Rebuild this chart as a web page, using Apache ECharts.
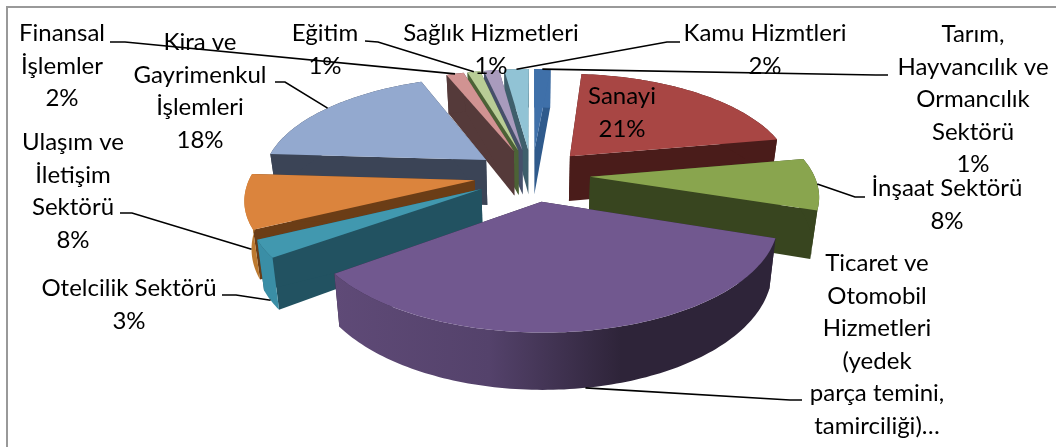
<!DOCTYPE html>
<html>
<head>
<meta charset="utf-8">
<style>
  html, body { margin: 0; padding: 0; background: #fff; }
  #chart { width: 1056px; height: 447px; }
</style>
<script src="https://cdn.jsdelivr.net/npm/echarts@6/dist/echarts.min.js"></script>
</head>
<body>
<div id="chart"></div>
<script>
// clockwise from 12 o'clock
var categories = [
  'Tarım,\nHayvancılık ve\nOrmancılık\nSektörü',
  'Sanayi',
  'İnşaat Sektörü',
  'Ticaret ve\nOtomobil\nHizmetleri\n(yedek\nparça temini,\ntamirciliği)…',
  'Otelcilik Sektörü',
  'Ulaşım ve\nİletişim\nSektörü',
  'Kira ve\nGayrimenkul\nİşlemleri',
  'Finansal\nİşlemler',
  'Eğitim',
  'Sağlık Hizmetleri',
  'Kamu Hizmtleri'
]
var values = [1.4, 20.7, 8, 34.8, 2.7, 8.4, 18, 1.5, 1.1, 1.3, 2.1]

var topColors = ['#3f70a9', '#a84644', '#89a54e', '#71588f', '#4198af', '#db843d', '#93a9cf', '#d19392', '#b9cd96', '#a99bbd', '#91c3d5']
var wallColors = ['#2f5a8c', '#4a1c1a', '#38451f', '#2e2439', '#225261', '#6b3d16', '#3b4456', '#553a3a', '#4c6236', '#46506a', '#3f5f6c']
var arcColors = ['#3f70a9', '#4a1c1a', '#38451f', '#5c4672', '#3a8ea6', '#bd7a30', '#3b4456', '#553a3a', '#4c6236', '#46506a', '#3f5f6c']

// label box: centre x, top y of first line
var labelBox = [
  [973, 18], [622, 80], [947, 172], [877, 247], [129, 272], [73, 126],
  [200, 26], [62, 17], [325, 17], [491, 17], [765, 17]
]
// leader line start and elbow, the end is worked out from the slice (level 0 top face, 1 bottom edge)
var leaders = [
  { from: [888, 75], elbow: [876, 75], level: 0 },
  null,
  { from: [865, 197], elbow: [855, 197], level: 0 },
  { from: [802, 400], elbow: [790, 400], level: 1 },
  { from: [222, 295], elbow: [236, 295], level: 1 },
  { from: [120, 213], elbow: [132, 213], level: 1 },
  { from: [275, 82], elbow: [285, 82], level: 0 },
  { from: [110, 42], elbow: [125, 42], level: 0 },
  { from: [365, 41], elbow: [378, 42], level: 0 },
  null,
  { from: [680, 42], elbow: [667, 42], level: 0 }
]

var cx = 532
var cy = 175
var radius = 224
var explode = 58
var tilt = 0.45
var persp = 0.0007
var depth = 46

var total = values.reduce(function(a, b) { return a + b }, 0)
var starts = []
values.reduce(function(sum, v, i) {
  starts[i] = sum / total * Math.PI * 2
  return sum + v
}, 0)

function project(a, b, level) {
  var s = 1 / (1 + persp * b)
  var shrink = level ? 0.975 : 1
  return [cx + a * s * shrink, cy - b * s * tilt + level * depth * s]
}

// point of slice i at angle t and distance r from its own apex
function slicePoint(i, t, r, level) {
  var mid = starts[i] + values[i] / total * Math.PI
  var a = explode * Math.sin(mid) + r * Math.sin(t)
  var b = explode * Math.cos(mid) + r * Math.cos(t)
  return project(a, b, level)
}

function arcPoints(i, level) {
  var t0 = starts[i]
  var t1 = t0 + values[i] / total * Math.PI * 2
  var n = Math.max(2, Math.ceil((t1 - t0) / 0.02))
  var pts = []
  for (var k = 0; k <= n; k++) {
    pts.push(slicePoint(i, t0 + (t1 - t0) * k / n, radius, level))
  }
  return pts
}

function poly(points, fill, z2) {
  return { type: 'polygon', z2: z2, shape: { points: points }, style: { fill: fill, stroke: null } }
}

function renderSlice(params, api) {
  var i = api.value(0)
  var mid = starts[i] + values[i] / total * Math.PI
  // far slices first
  var base = Math.round((1 - Math.cos(mid)) * 1000)
  var apexTop = slicePoint(i, 0, 0, 0)
  var apexBot = slicePoint(i, 0, 0, 1)
  var top = arcPoints(i, 0)
  var bot = arcPoints(i, 1)
  var wallA = [apexTop, top[0], bot[0], apexBot]
  var wallB = [apexTop, top[top.length - 1], bot[bot.length - 1], apexBot]
  var arc = top.concat(bot.slice().reverse())
  var arcFill = arcColors[i]
  if (i === 3) {
    arcFill = {
      type: 'linear', x: 0, y: 0, x2: 1, y2: 0,
      colorStops: [
        { offset: 0, color: '#5f4a77' },
        { offset: 0.35, color: '#54426b' },
        { offset: 0.65, color: '#2e2439' },
        { offset: 1, color: '#2e2439' }
      ]
    }
  }
  return {
    type: 'group',
    children: [
      poly(wallA, wallColors[i], base),
      poly(wallB, wallColors[i], base + 1),
      poly(arc, arcFill, base + 2),
      poly([apexTop].concat(top), topColors[i], base + 3)
    ]
  }
}

function renderLabel(params, api) {
  var i = api.value(0)
  var children = []
  var name = categories[i]
  var pct = Math.round(values[i] / total * 100) + '%'
  var text = name.slice(-1) === '…' ? name : name + '\n' + pct
  children.push({
    type: 'text',
    z2: 6000,
    style: {
      text: text,
      x: labelBox[i][0],
      y: labelBox[i][1],
      align: 'center',
      verticalAlign: 'top',
      font: '24px Lato',
      lineHeight: 32.6,
      fill: '#000'
    }
  })
  var leader = leaders[i]
  if (leader) {
    var end = slicePoint(i, starts[i] + values[i] / total * Math.PI, radius, leader.level)
    children.push({
      type: 'polyline',
      z2: 6001,
      shape: { points: [leader.from, leader.elbow, end] },
      style: { stroke: '#000', lineWidth: 1.6, fill: null }
    })
  }
  return { type: 'group', children: children }
}

var rows = values.map(function(v, i) { return [i, v] })

var chart = echarts.init(document.getElementById('chart'), null, { renderer: 'canvas' })
chart.setOption({
  animation: false,
  backgroundColor: '#fff',
  graphic: [{
    type: 'polyline',
    silent: true,
    shape: { points: [[7, 447], [7, 7], [1056, 7]] },
    style: { stroke: '#999', lineWidth: 2, fill: null }
  }],
  series: [
    {
      type: 'custom',
      coordinateSystem: 'none',
      silent: true,
      data: rows,
      renderItem: renderSlice
    },
    {
      type: 'custom',
      coordinateSystem: 'none',
      silent: true,
      z: 5,
      data: rows,
      renderItem: renderLabel
    }
  ]
})
</script>
</body>
</html>
